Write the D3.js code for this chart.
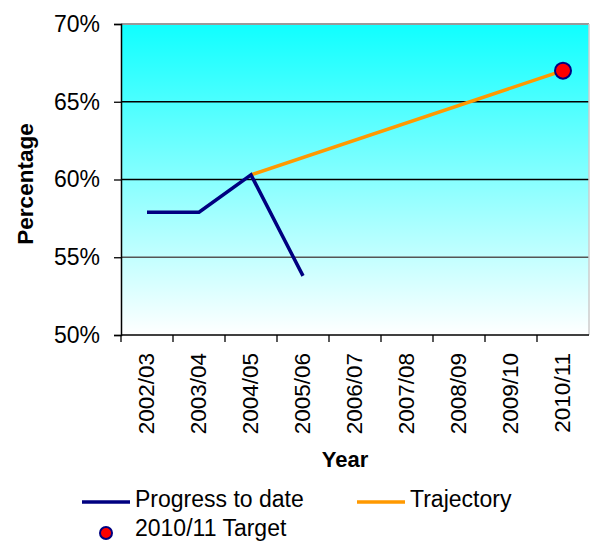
<!DOCTYPE html>
<html><head><meta charset="utf-8">
<script src="https://cdn.jsdelivr.net/npm/d3@7"></script>
<style>body{margin:0;background:#fff}svg{display:block;font-family:"Liberation Sans",Arial,sans-serif}</style>
</head><body>
<svg id="c" width="590" height="542"></svg>
<script>
const years = ["2002/03","2003/04","2004/05","2005/06","2006/07","2007/08","2008/09","2009/10","2010/11"];
const progressYears = ["2002/03","2003/04","2004/05","2005/06"];
const progressValues = [57.9, 57.9, 60.3, 53.8];
const trajectoryYears = ["2004/05","2010/11"];
const trajectoryValues = [60.3, 67.0];
const targetYear = ["2010/11"];
const targetValue = [67.0];
const yTicks = [50, 55, 60, 65, 70];

const svg = d3.select("#c");
const m = {l:121, t:24, r:589, b:335};
const x = d3.scaleBand().domain(years).range([m.l, m.r]);
const y = d3.scaleLinear().domain([50,70]).range([m.b, m.t]);

const defs = svg.append("defs");
const g = defs.append("linearGradient").attr("id","bg").attr("x1",0).attr("y1",0).attr("x2",0).attr("y2",1);
g.append("stop").attr("offset","0%").attr("stop-color","#0fffff");
g.append("stop").attr("offset","100%").attr("stop-color","#ffffff");

svg.append("rect").attr("x",m.l).attr("y",m.t).attr("width",m.r-m.l).attr("height",m.b-m.t).attr("fill","url(#bg)");

// gridlines
svg.append("g").selectAll("line").data(yTicks.filter(d=>d>50 && d<70)).join("line")
  .attr("x1",m.l).attr("x2",m.r).attr("y1",d=>y(d)).attr("y2",d=>y(d))
  .attr("stroke",d=>d===55?"#555":"#000").attr("stroke-width",1.3);
// top & right border
svg.append("line").attr("x1",m.l).attr("x2",m.r).attr("y1",m.t).attr("y2",m.t).attr("stroke","#999").attr("stroke-width",2);
svg.append("line").attr("x1",m.r).attr("x2",m.r).attr("y1",m.t).attr("y2",m.b).attr("stroke","#ccc").attr("stroke-width",1.5);

// y axis
const ya = svg.append("g").attr("transform",`translate(${m.l},0)`)
  .call(d3.axisLeft(y).tickValues(yTicks).tickSize(7).tickPadding(14).tickFormat(d=>d+"%"));
ya.select(".domain").attr("stroke","#000").attr("stroke-width",1.5);
ya.selectAll(".tick line").attr("stroke","#000").attr("stroke-width",1.3);
ya.selectAll("text").attr("font-size",23).attr("fill","#000").attr("font-family","Liberation Sans, Arial, sans-serif");

// x axis with ticks between categories
const xa = svg.append("g").attr("transform",`translate(0,${m.b})`);
xa.append("line").attr("x1",m.l).attr("x2",m.r).attr("stroke","#000").attr("stroke-width",1.5);
xa.selectAll("line.t").data(years).join("line").attr("class","t")
  .attr("x1",d=>x(d)).attr("x2",d=>x(d)).attr("y1",0).attr("y2",7).attr("stroke","#000").attr("stroke-width",1.3);
xa.selectAll("text").data(years).join("text")
  .attr("transform",d=>`translate(${x(d)+x.bandwidth()/2+7},18) rotate(-90)`)
  .attr("text-anchor","end").attr("font-size",22.5).attr("fill","#000").text(d=>d);

// axis titles
svg.append("text").attr("x",345).attr("y",467).attr("text-anchor","middle")
  .attr("font-size",22).attr("font-weight","bold").text("Year");
svg.append("text").attr("transform","translate(33,184) rotate(-90)").attr("text-anchor","middle")
  .attr("font-size",22.5).attr("font-weight","bold").text("Percentage");

// lines
const line = d3.line().x(d=>x(d[0])+x.bandwidth()/2).y(d=>y(d[1]));
svg.append("path").datum(trajectoryYears.map((d,i)=>[d,trajectoryValues[i]]))
  .attr("d",line).attr("fill","none").attr("stroke","#ff9900").attr("stroke-width",3.5);
svg.append("path").datum(progressYears.map((d,i)=>[d,progressValues[i]]))
  .attr("d",line).attr("fill","none").attr("stroke","#000080").attr("stroke-width",3.5);
svg.selectAll("circle.tg").data(targetYear.map((d,i)=>[d,targetValue[i]])).join("circle").attr("class","tg")
  .attr("cx",d=>x(d[0])+x.bandwidth()/2).attr("cy",d=>y(d[1])).attr("r",8)
  .attr("fill","#ff0000").attr("stroke","#000080").attr("stroke-width",2);

// legend
const lg = svg.append("g");
lg.append("line").attr("x1",82).attr("x2",130).attr("y1",502).attr("y2",502).attr("stroke","#000080").attr("stroke-width",3.5);
lg.append("text").attr("x",135).attr("y",507).attr("font-size",23).text("Progress to date");
lg.append("line").attr("x1",357).attr("x2",405).attr("y1",502).attr("y2",502).attr("stroke","#ff9900").attr("stroke-width",3.5);
lg.append("text").attr("x",410).attr("y",507).attr("font-size",23).text("Trajectory");
lg.append("circle").attr("cx",106).attr("cy",533).attr("r",6).attr("fill","#ff0000").attr("stroke","#000080").attr("stroke-width",2);
lg.append("text").attr("x",135).attr("y",536).attr("font-size",23).text("2010/11 Target");
</script>
</body></html>
